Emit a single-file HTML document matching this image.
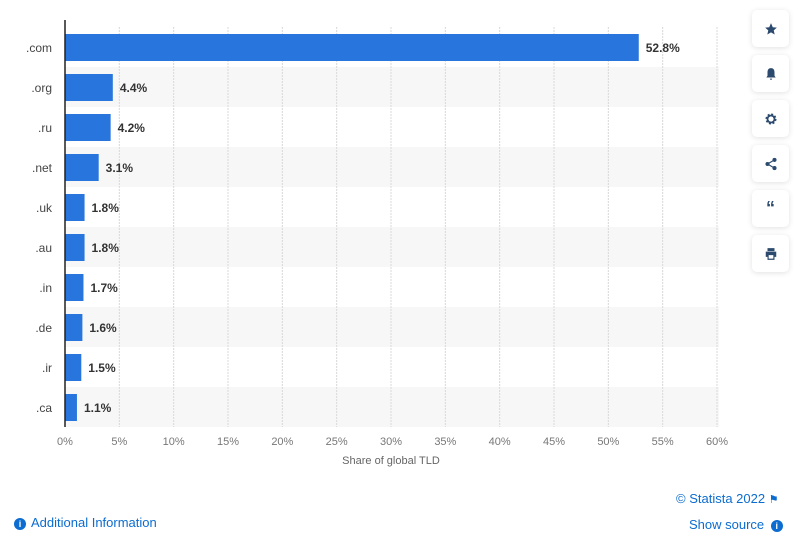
<!DOCTYPE html>
<html><head><meta charset="utf-8"><style>
body{margin:0;width:800px;height:550px;background:#fff;font-family:"Liberation Sans",sans-serif;overflow:hidden;position:relative}
.btn{position:absolute;left:752px;width:37px;height:37px;background:#fff;border-radius:5px;box-shadow:0 1px 6px rgba(0,0,0,0.12);display:flex;align-items:center;justify-content:center}
.lnk{position:absolute;color:#0c6cd0;font-size:13px}
</style></head><body>
<svg id="chart" width="740" height="480" style="position:absolute;left:0;top:0"></svg>
<div class="btn" style="top:10px"><svg width="14" height="14" viewBox="0 0 24 24"><path d="M12 2l3 7 7 .6-5.3 4.7 1.6 7.2L12 17.8 5.7 21.5l1.6-7.2L2 9.6 9 9z" fill="#2c4a6e"/></svg></div>
<div class="btn" style="top:55px"><svg width="14" height="14" viewBox="0 0 24 24"><path d="M12 2c-4 0-6 3-6 7v6l-2 3h16l-2-3V9c0-4-2-7-6-7zM10 20h4a2 2 0 0 1-4 0z" fill="#2c4a6e"/></svg></div>
<div class="btn" style="top:100px"><svg width="14" height="14" viewBox="0 0 24 24"><circle cx="12" cy="12" r="7" fill="none" stroke="#2c4a6e" stroke-width="5" stroke-dasharray="3 2.5"/><circle cx="12" cy="12" r="6" fill="none" stroke="#2c4a6e" stroke-width="3"/></svg></div>
<div class="btn" style="top:145px"><svg width="14" height="14" viewBox="0 0 24 24"><circle cx="18" cy="5" r="3.5" fill="#2c4a6e"/><circle cx="6" cy="12" r="3.5" fill="#2c4a6e"/><circle cx="18" cy="19" r="3.5" fill="#2c4a6e"/><path d="M18 5L6 12l12 7" stroke="#2c4a6e" stroke-width="2" fill="none"/></svg></div>
<div class="btn" style="top:190px;font-weight:bold;color:#2c4a6e;font-size:18px">“</div>
<div class="btn" style="top:235px"><svg width="14" height="14" viewBox="0 0 24 24"><path d="M6 2h12v5H6zM3 8h18v9h-3v5H6v-5H3zM8 14v6h8v-6z" fill="#2c4a6e"/></svg></div>
<div class="lnk" style="left:676px;top:491px">© Statista 2022 <span style="font-size:11px">⚑</span></div>
<div class="lnk" style="left:14px;top:515px"><span style="display:inline-block;width:12px;height:12px;border-radius:6px;background:#0c6cd0;color:#fff;font-size:9px;text-align:center;line-height:12px;font-weight:bold;margin-right:5px">i</span>Additional Information</div>
<div class="lnk" style="left:689px;top:517px">Show source <span style="display:inline-block;width:12px;height:12px;border-radius:6px;background:#0c6cd0;color:#fff;font-size:9px;text-align:center;line-height:12px;font-weight:bold;margin-left:3px">i</span></div>
<script>
const categories=['.com','.org','.ru','.net','.uk','.au','.in','.de','.ir','.ca'];
const values=[52.8,4.4,4.2,3.1,1.8,1.8,1.7,1.6,1.5,1.1];
const ticks=[0,5,10,15,20,25,30,35,40,45,50,55,60];
const svg=document.getElementById('chart');
const NS='http://www.w3.org/2000/svg';
const X0=65,X1=717,Y0=27,ROW=40;
const x=v=>X0+(v/60)*(X1-X0);
const y=i=>Y0+i*ROW;
function mk(t,a){const e=document.createElementNS(NS,t);for(const k in a)e.setAttribute(k,a[k]);svg.appendChild(e);return e;}
categories.forEach((c,i)=>{if(i%2==1){const r=mk('rect',{x:X0,y:y(i),width:X1-X0+2,height:ROW,fill:'#f7f7f7'});

}});
ticks.forEach(t=>{if(t>0){const l=mk('line',{x1:x(t),x2:x(t),y1:Y0,y2:Y0+ROW*categories.length,stroke:'#d8d8d8','stroke-dasharray':'2 1'});

}
const tx=mk('text',{x:x(t),y:445,'text-anchor':'middle','font-size':'11',fill:'#777'});tx.textContent=t+'%';

});
categories.forEach((c,i)=>{
const b=mk('rect',{x:X0,y:y(i)+7,width:x(values[i])-X0,height:27,fill:'#2876dd'});


const l=mk('text',{x:52,y:y(i)+25,'text-anchor':'end','font-size':'12',fill:'#444'});l.textContent=c;


const v=mk('text',{x:x(values[i])+7,y:y(i)+25,'font-size':'12',fill:'#333','font-weight':'bold'});v.textContent=values[i].toFixed(1)+'%';


});
const ax=mk('line',{x1:X0,x2:X0,y1:Y0-7,y2:Y0+ROW*categories.length,stroke:'#222','stroke-width':1.5});


const tt=mk('text',{x:391,y:464,'text-anchor':'middle','font-size':'11',fill:'#666'});tt.textContent='Share of global TLD';


</script>
</body></html>
